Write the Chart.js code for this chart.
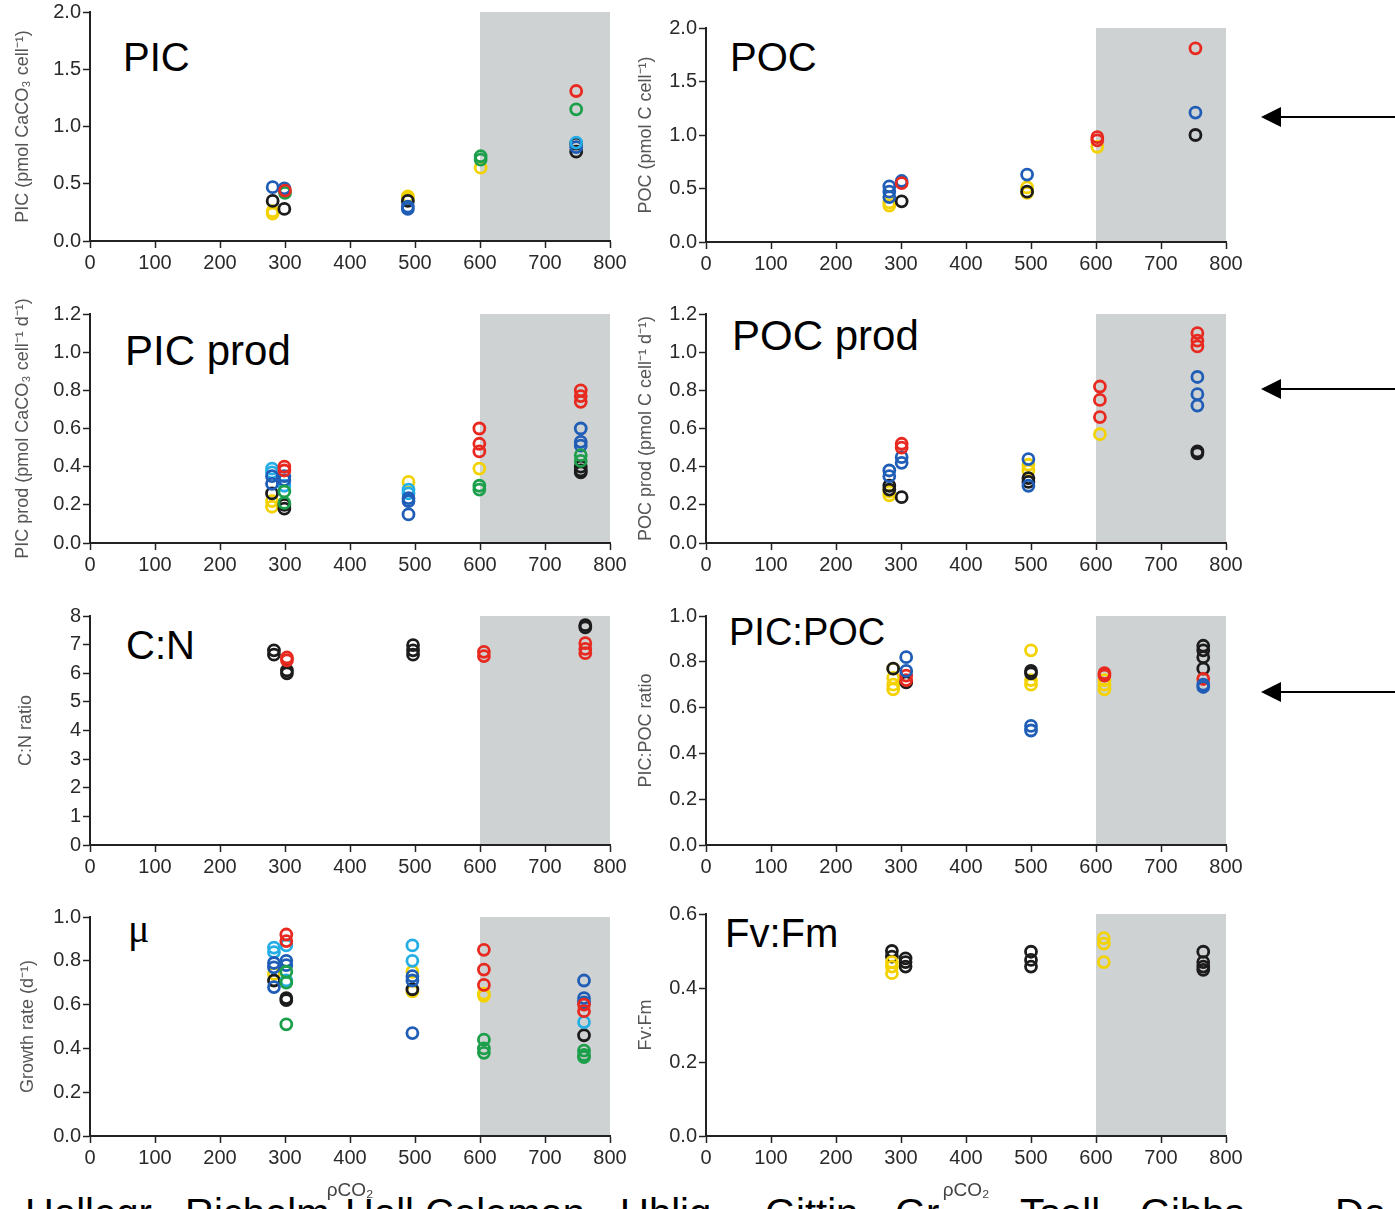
<!DOCTYPE html>
<html lang="en">
<head>
<meta charset="UTF-8" />
<title>Coccolithophore responses to pCO2</title>
<script src="https://cdn.jsdelivr.net/npm/chart.js"></script>
<style>
    body {
        margin: 0;
        width: 1395px;
        height: 1209px;
        overflow: hidden;
        background: #fff;
        position: relative;
        font-family: "Liberation Sans", Arial, sans-serif;
    }
    .panel { position: absolute; }
    .label {
        position: absolute;
        font-size: 40px;
        line-height: 1;
        color: #000;
        white-space: nowrap;
    }
    .names {
        position: absolute;
        top: 1193px;
        font-size: 40px;
        line-height: 1;
        white-space: nowrap;
    }
    svg { position: absolute; left: 0; top: 0; }
</style>
</head>
<body>

<div class="label" style="left:123px;top:37px">PIC</div>
<div class="label" style="left:730px;top:37px">POC</div>
<div class="label" style="left:125px;top:330px;font-size:42px">PIC prod</div>
<div class="label" style="left:732px;top:315px;font-size:42px">POC prod</div>
<div class="label" style="left:126px;top:625px">C:N</div>
<div class="label" style="left:729px;top:613px;font-size:38px">PIC:POC</div>
<div class="label" style="left:128px;top:909px;font-family:'Liberation Serif',serif">μ</div>
<div class="label" style="left:725px;top:913px">Fv:Fm</div>

<div class="names" style="left:25px">Hallegr</div>
<div class="names" style="left:185px">Richelm</div>
<div class="names" style="left:345px">Hall</div>
<div class="names" style="left:425px">Coleman</div>
<div class="names" style="left:620px">Uhlig</div>
<div class="names" style="left:765px">Gittin</div>
<div class="names" style="left:895px">Gr</div>
<div class="names" style="left:1020px">Tsell</div>
<div class="names" style="left:1140px">Gibbs</div>
<div class="names" style="left:1335px">Da</div>

<svg width="1395" height="1209">
    <g stroke="#000" stroke-width="2">
        <line x1="1278" y1="117" x2="1395" y2="117" />
        <line x1="1278" y1="389" x2="1395" y2="389" />
        <line x1="1278" y1="692" x2="1395" y2="692" />
    </g>
    <g fill="#000">
        <polygon points="1261,117 1281,107 1281,127" />
        <polygon points="1261,389 1281,379 1281,399" />
        <polygon points="1261,692 1281,682 1281,702" />
    </g>
</svg>

<script>
    // pCO2 range that is shaded grey
    const shadeFrom = 600;
    const shadeTo = 800;
    const xTicks = [0, 100, 200, 300, 400, 500, 600, 700, 800];

    const colors = {
        red: '#e8291f',
        green: '#1c9f4a',
        blue: '#1f5db6',
        lightblue: '#25ade6',
        black: '#1c1c1c',
        yellow: '#f3d200'
    };

    // [pCO2, value]
    const picRed = [[300, 0.44], [748, 1.31]];
    const picGreen = [[300, 0.42], [601, 0.74], [601, 0.71], [748, 1.15]];
    const picBlue = [[281, 0.47], [299, 0.46], [489, 0.28], [489, 0.30], [748, 0.82]];
    const picLightblue = [[748, 0.86]];
    const picBlack = [[281, 0.35], [299, 0.28], [489, 0.35], [748, 0.85], [748, 0.78]];
    const picYellow = [[281, 0.24], [281, 0.26], [489, 0.39], [489, 0.37], [601, 0.64]];

    const pocRed = [[301, 0.55], [602, 0.98], [602, 0.95], [753, 1.81]];
    const pocBlue = [[282, 0.52], [282, 0.47], [282, 0.42], [301, 0.57], [494, 0.63], [753, 1.21]];
    const pocBlack = [[301, 0.38], [494, 0.47], [753, 1.00]];
    const pocYellow = [[282, 0.34], [282, 0.37], [494, 0.51], [494, 0.46], [602, 0.89]];

    const picProdRed = [[299, 0.40], [299, 0.38], [599, 0.60], [599, 0.52], [599, 0.48], [755, 0.80], [755, 0.77], [755, 0.74]];
    const picProdGreen = [[299, 0.27], [299, 0.21], [599, 0.30], [599, 0.28], [755, 0.46], [755, 0.43]];
    const picProdBlue = [[280, 0.35], [280, 0.31], [299, 0.35], [299, 0.33], [490, 0.235], [490, 0.22], [490, 0.15], [755, 0.60], [755, 0.53], [755, 0.51]];
    const picProdLightblue = [[280, 0.39], [280, 0.37], [299, 0.30], [490, 0.28], [490, 0.26]];
    const picProdBlack = [[280, 0.26], [299, 0.20], [299, 0.18], [755, 0.40], [755, 0.38], [755, 0.37]];
    const picProdYellow = [[280, 0.22], [280, 0.19], [490, 0.32], [599, 0.39]];

    const pocProdRed = [[301, 0.52], [301, 0.50], [606, 0.82], [606, 0.75], [606, 0.66], [756, 1.10], [756, 1.06], [756, 1.03]];
    const pocProdBlue = [[282, 0.38], [282, 0.35], [301, 0.45], [301, 0.42], [496, 0.44], [496, 0.30], [756, 0.87], [756, 0.78], [756, 0.72]];
    const pocProdBlack = [[282, 0.30], [282, 0.28], [301, 0.24], [496, 0.34], [496, 0.32], [756, 0.48], [756, 0.47]];
    const pocProdYellow = [[282, 0.27], [282, 0.25], [496, 0.41], [496, 0.38], [606, 0.57]];

    const cnRed = [[303, 6.55], [303, 6.45], [606, 6.75], [606, 6.6], [762, 7.05], [762, 6.85], [762, 6.7]];
    const cnBlack = [[283, 6.8], [283, 6.65], [303, 6.1], [303, 6.0], [497, 6.98], [497, 6.8], [497, 6.65], [762, 7.68], [762, 7.6]];

    const ratioRed = [[308, 0.74], [308, 0.72], [613, 0.75], [613, 0.74], [765, 0.725]];
    const ratioBlue = [[308, 0.82], [308, 0.76], [500, 0.52], [500, 0.50], [765, 0.70], [765, 0.69]];
    const ratioBlack = [[288, 0.77], [308, 0.71], [500, 0.76], [500, 0.75], [765, 0.87], [765, 0.85], [765, 0.82], [765, 0.77]];
    const ratioYellow = [[288, 0.77], [288, 0.73], [288, 0.70], [288, 0.68], [500, 0.85], [500, 0.72], [500, 0.70], [613, 0.72], [613, 0.70], [613, 0.68]];

    const muRed = [[302, 0.92], [302, 0.89], [606, 0.85], [606, 0.76], [606, 0.69], [760, 0.60], [760, 0.57]];
    const muGreen = [[302, 0.75], [302, 0.70], [302, 0.51], [606, 0.44], [606, 0.40], [606, 0.38], [760, 0.39], [760, 0.37], [760, 0.36]];
    const muBlue = [[283, 0.79], [283, 0.77], [283, 0.68], [302, 0.80], [302, 0.78], [496, 0.73], [496, 0.71], [496, 0.47], [760, 0.71], [760, 0.63], [760, 0.61]];
    const muLightblue = [[283, 0.86], [283, 0.84], [302, 0.87], [302, 0.71], [496, 0.87], [496, 0.80], [760, 0.52]];
    const muBlack = [[283, 0.71], [302, 0.63], [302, 0.62], [496, 0.67], [760, 0.46]];
    const muYellow = [[283, 0.74], [496, 0.75], [496, 0.66], [606, 0.65], [606, 0.64]];

    const fvBlack = [[286, 0.50], [286, 0.485], [307, 0.48], [307, 0.47], [307, 0.458], [500, 0.498], [500, 0.476], [500, 0.458], [765, 0.498], [765, 0.47], [765, 0.458], [765, 0.449]];
    const fvYellow = [[286, 0.47], [286, 0.458], [286, 0.44], [612, 0.535], [612, 0.52], [612, 0.47]];

    const panels = [
        { left: 0, axisX: 90, top: 12, bottom: 241, max: 2, step: 0.5, dec: 1, titlePad: 12,
          title: 'PIC (pmol CaCO₃ cell⁻¹)',
          series: { red: picRed, green: picGreen, lightblue: picLightblue, blue: picBlue, black: picBlack, yellow: picYellow } },
        { left: 630, axisX: 706, top: 28, bottom: 242, max: 2, step: 0.5, dec: 1, titlePad: 5,
          title: 'POC (pmol C cell⁻¹)',
          series: { red: pocRed, blue: pocBlue, black: pocBlack, yellow: pocYellow } },
        { left: 0, axisX: 90, top: 314, bottom: 543, max: 1.2, step: 0.2, dec: 1, titlePad: 12,
          title: 'PIC prod (pmol CaCO₃ cell⁻¹ d⁻¹)',
          series: { red: picProdRed, green: picProdGreen, blue: picProdBlue, lightblue: picProdLightblue, black: picProdBlack, yellow: picProdYellow } },
        { left: 630, axisX: 706, top: 314, bottom: 543, max: 1.2, step: 0.2, dec: 1, titlePad: 5,
          title: 'POC prod (pmol C cell⁻¹ d⁻¹)',
          series: { red: pocProdRed, blue: pocProdBlue, black: pocProdBlack, yellow: pocProdYellow } },
        { left: 0, axisX: 90, top: 616, bottom: 845, max: 8, step: 1, dec: 0, titlePad: 15,
          title: 'C:N ratio',
          series: { red: cnRed, black: cnBlack } },
        { left: 630, axisX: 706, top: 616, bottom: 845, max: 1, step: 0.2, dec: 1, titlePad: 5,
          title: 'PIC:POC ratio',
          series: { blue: ratioBlue, red: ratioRed, black: ratioBlack, yellow: ratioYellow } },
        { left: 0, axisX: 90, top: 917, bottom: 1136, max: 1, step: 0.2, dec: 1, titlePad: 17, xTitle: true,
          title: 'Growth rate (d⁻¹)',
          series: { red: muRed, green: muGreen, blue: muBlue, lightblue: muLightblue, black: muBlack, yellow: muYellow } },
        { left: 630, axisX: 706, top: 914, bottom: 1136, max: 0.6, step: 0.2, dec: 1, titlePad: 5, xTitle: true,
          title: 'Fv:Fm',
          series: { yellow: fvYellow, black: fvBlack } }
    ];

    const shadePlugin = {
        id: 'shade',
        beforeDatasetsDraw(chart) {
            const { ctx, chartArea, scales } = chart;
            const x0 = scales.x.getPixelForValue(shadeFrom);
            const x1 = scales.x.getPixelForValue(shadeTo);
            ctx.save();
            ctx.fillStyle = '#cfd2d3';
            ctx.fillRect(x0, chartArea.top, x1 - x0, chartArea.bottom - chartArea.top - 1);
            ctx.restore();
        }
    };

    const fontFamily = '"Liberation Sans", Arial, sans-serif';
    const tickFont = { family: fontFamily, size: 20 };
    const titleFont = { family: fontFamily, size: 18 };
    const padTop = 18;

    panels.forEach(p => {
        const xh = p.xTitle ? 72 : 40;
        const w = p.axisX + 520 + 30 - p.left;
        const h = p.bottom - p.top + padTop + xh;

        const box = document.createElement('div');
        box.className = 'panel';
        box.style.left = p.left + 'px';
        box.style.top = (p.top - padTop) + 'px';
        const canvas = document.createElement('canvas');
        canvas.width = w;
        canvas.height = h;
        canvas.style.width = w + 'px';
        canvas.style.height = h + 'px';
        box.appendChild(canvas);
        document.body.appendChild(box);

        const datasets = Object.keys(p.series).map(c => ({
            label: c,
            data: p.series[c].map(d => ({ x: d[0], y: d[1] })),
            borderColor: colors[c],
            backgroundColor: 'rgba(0,0,0,0)',
            pointRadius: 5.5,
            pointBorderWidth: 2.8,
            showLine: false
        }));

        new Chart(canvas.getContext('2d'), {
            type: 'scatter',
            data: { datasets },
            plugins: [shadePlugin],
            options: {
                responsive: false,
                animation: false,
                layout: { padding: { top: padTop, right: 30, left: 0, bottom: 0 } },
                plugins: { legend: { display: false }, tooltip: { enabled: false } },
                scales: {
                    x: {
                        type: 'linear',
                        min: 0,
                        max: 800,
                        afterBuildTicks: s => { s.ticks = xTicks.map(v => ({ value: v })); },
                        ticks: { color: '#2a2a2a', font: tickFont, padding: 3, maxRotation: 0 },
                        grid: { drawOnChartArea: false, tickLength: 7, tickColor: '#222', tickWidth: 1.5 },
                        border: { color: '#222', width: 2 },
                        title: {
                            display: !!p.xTitle,
                            text: 'ρCO₂',
                            color: '#444',
                            font: { family: fontFamily, size: 19 },
                            padding: { top: 0, bottom: 6 }
                        },
                        afterFit: s => { s.height = xh; }
                    },
                    y: {
                        min: 0,
                        max: p.max,
                        ticks: {
                            stepSize: p.step,
                            color: '#2a2a2a',
                            font: tickFont,
                            padding: 2,
                            callback: v => Number(v).toFixed(p.dec)
                        },
                        grid: { drawOnChartArea: false, tickLength: 7, tickColor: '#222', tickWidth: 1.5 },
                        border: { color: '#222', width: 2 },
                        title: {
                            display: true,
                            text: p.title,
                            color: '#555',
                            font: titleFont,
                            padding: { top: p.titlePad, bottom: 0 }
                        },
                        afterFit: s => { s.width = p.axisX - p.left; }
                    }
                }
            }
        });
    });
</script>
</body>
</html>
